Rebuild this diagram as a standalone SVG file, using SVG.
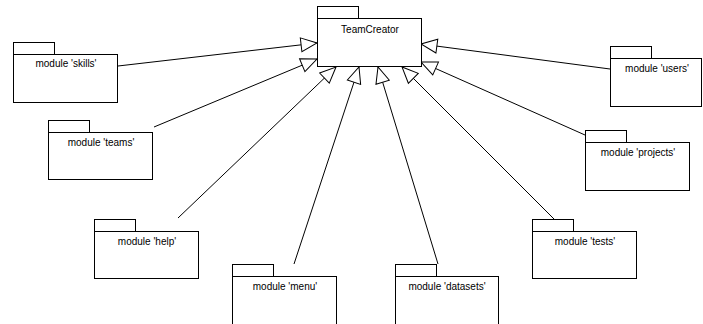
<svg xmlns="http://www.w3.org/2000/svg" width="703" height="324" viewBox="0 0 703 324">
<style>
.box{fill:#fff;stroke:#000;stroke-width:1}
.lbl{font-family:"Liberation Sans",Arial,sans-serif;font-size:10px;fill:#000;text-anchor:middle}
.conn{stroke:#000;stroke-width:1;fill:none;marker-end:url(#gen)}
</style>
<defs>
<marker id="gen" markerUnits="userSpaceOnUse" markerWidth="18" markerHeight="16" viewBox="-1 -1 18 16" refX="16" refY="7" orient="auto">
<path d="M0,0 L16,7 L0,14 Z" fill="#fff" stroke="#000" stroke-width="1"/>
</marker>
</defs>
<rect width="703" height="324" fill="#fff"/>
<g id="connectors">
<line class="conn" x1="118" y1="66" x2="317" y2="43"/>
<line class="conn" x1="154" y1="127" x2="317" y2="59"/>
<line class="conn" x1="178" y1="218" x2="336" y2="67"/>
<line class="conn" x1="294" y1="264" x2="359" y2="67"/>
<line class="conn" x1="438" y1="264" x2="378" y2="67"/>
<line class="conn" x1="554" y1="219" x2="402" y2="67"/>
<line class="conn" x1="585" y1="135" x2="421" y2="62"/>
<line class="conn" x1="610" y1="69" x2="421" y2="44"/>
</g>
<g id="TeamCreator">
<rect class="box" x="317.5" y="6.5" width="41" height="12"/>
<rect class="box" x="317.5" y="18.5" width="104" height="48"/>
<text class="lbl" x="370" y="33">TeamCreator</text>
</g>
<g id="skills">
<rect class="box" x="13.5" y="42.5" width="41" height="12"/>
<rect class="box" x="13.5" y="54.5" width="104" height="48"/>
<text class="lbl" x="66" y="67">module 'skills'</text>
</g>
<g id="teams">
<rect class="box" x="48.5" y="120.5" width="41" height="12"/>
<rect class="box" x="48.5" y="132.5" width="104" height="47"/>
<text class="lbl" x="101" y="146">module 'teams'</text>
</g>
<g id="help">
<rect class="box" x="94.5" y="219.5" width="41" height="12"/>
<rect class="box" x="94.5" y="231.5" width="104" height="47"/>
<text class="lbl" x="147" y="245">module 'help'</text>
</g>
<g id="menu">
<rect class="box" x="232.5" y="264.5" width="41" height="12"/>
<rect class="box" x="232.5" y="276.5" width="104" height="60"/>
<text class="lbl" x="285" y="290">module 'menu'</text>
</g>
<g id="datasets">
<rect class="box" x="395.5" y="264.5" width="41" height="12"/>
<rect class="box" x="395.5" y="276.5" width="103" height="60"/>
<text class="lbl" x="447" y="290">module 'datasets'</text>
</g>
<g id="tests">
<rect class="box" x="532.5" y="219.5" width="41" height="12"/>
<rect class="box" x="532.5" y="231.5" width="104" height="47"/>
<text class="lbl" x="585" y="245">module 'tests'</text>
</g>
<g id="projects">
<rect class="box" x="585.5" y="130.5" width="41" height="12"/>
<rect class="box" x="585.5" y="142.5" width="104" height="48"/>
<text class="lbl" x="638" y="156">module 'projects'</text>
</g>
<g id="users">
<rect class="box" x="610.5" y="46.5" width="41" height="12"/>
<rect class="box" x="610.5" y="58.5" width="91" height="48"/>
<text class="lbl" x="657" y="72">module 'users'</text>
</g>
</svg>
